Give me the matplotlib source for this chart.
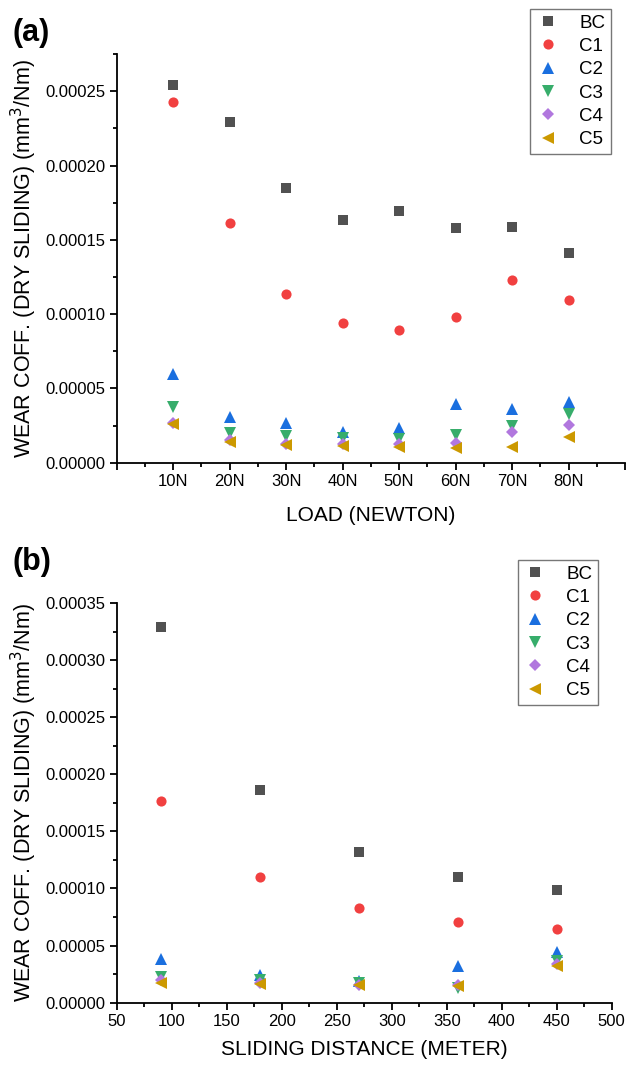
import numpy as np
import matplotlib.pyplot as plt
from matplotlib.ticker import MultipleLocator, FormatStrFormatter

plt.rcParams['font.family'] = ['Liberation Sans', 'DejaVu Sans']

# series names and styles
series = ['BC', 'C1', 'C2', 'C3', 'C4', 'C5']
colors = ['#515151', '#F14040', '#1A6FDF', '#37AD6B', '#B177DE', '#CC9900']
markers = ['s', 'o', '^', 'v', 'D', '<']
msizes = [6.8, 7.3, 8.3, 8.3, 6.3, 8.3]

# panel (a): wear coefficient vs load
loads = ['10N', '20N', '30N', '40N', '50N', '60N', '70N', '80N']
load_bc = [2.543e-4, 2.295e-4, 1.848e-4, 1.632e-4, 1.693e-4, 1.580e-4, 1.585e-4, 1.414e-4]
load_c1 = [2.426e-4, 1.614e-4, 1.138e-4, 9.42e-5, 8.90e-5, 9.82e-5, 1.230e-4, 1.095e-4]
load_c2 = [6.00e-5, 3.08e-5, 2.65e-5, 2.09e-5, 2.32e-5, 3.98e-5, 3.64e-5, 4.09e-5]
load_c3 = [3.75e-5, 2.02e-5, 1.80e-5, 1.69e-5, 1.57e-5, 1.84e-5, 2.47e-5, 3.26e-5]
load_c4 = [2.65e-5, 1.50e-5, 1.28e-5, 1.28e-5, 1.24e-5, 1.35e-5, 2.09e-5, 2.52e-5]
load_c5 = [2.59e-5, 1.42e-5, 1.19e-5, 1.15e-5, 1.08e-5, 1.01e-5, 1.06e-5, 1.73e-5]

# panel (b): wear coefficient vs sliding distance
distance = [90, 180, 270, 360, 450]
dist_bc = [3.29e-4, 1.864e-4, 1.321e-4, 1.105e-4, 9.86e-5]
dist_c1 = [1.770e-4, 1.103e-4, 8.25e-5, 7.09e-5, 6.48e-5]
dist_c2 = [3.85e-5, 2.42e-5, 1.90e-5, 3.18e-5, 4.46e-5]
dist_c3 = [2.28e-5, 1.98e-5, 1.75e-5, 1.31e-5, 3.65e-5]
dist_c4 = [2.00e-5, 1.70e-5, 1.52e-5, 1.52e-5, 3.40e-5]
dist_c5 = [1.75e-5, 1.66e-5, 1.52e-5, 1.46e-5, 3.20e-5]

load_data = [load_bc, load_c1, load_c2, load_c3, load_c4, load_c5]
dist_data = [dist_bc, dist_c1, dist_c2, dist_c3, dist_c4, dist_c5]

ylab = 'WEAR COFF. (DRY SLIDING) (mm$^3$/Nm)'

fig = plt.figure(figsize=(6.35, 10.66), dpi=100)
ax1 = fig.add_axes([0.1838, 0.5659, 0.8005, 0.3834])
ax2 = fig.add_axes([0.1838, 0.0594, 0.7795, 0.3749])


def style_axes(ax):
    for s in ['top', 'right']:
        ax.spines[s].set_visible(False)
    for s in ['left', 'bottom']:
        ax.spines[s].set_linewidth(1.3)
    ax.tick_params(which='major', direction='out', length=5, width=1.3, labelsize=12, pad=3)
    ax.tick_params(which='minor', direction='out', length=3, width=1.3)
    ax.yaxis.set_major_formatter(FormatStrFormatter('%.5f'))


# panel (a)
xpos = np.arange(1, len(loads) + 1)
for name, vals, c, m, ms in zip(series, load_data, colors, markers, msizes):
    ax1.plot(xpos, vals, linestyle='none', marker=m, color=c, markersize=ms,
             markeredgewidth=0, label=name)
ax1.set_xlim(0, 9)
ax1.set_ylim(0, 0.000275)
ax1.set_xticks(np.arange(0, 10))
ax1.set_xticklabels([''] + loads + [''])
ax1.xaxis.set_minor_locator(MultipleLocator(0.5))
ax1.yaxis.set_major_locator(MultipleLocator(0.00005))
ax1.yaxis.set_minor_locator(MultipleLocator(0.000025))
style_axes(ax1)
ax1.set_xlabel('LOAD (NEWTON)', fontsize=15, labelpad=12)
ax1.set_ylabel(ylab, fontsize=15.5, labelpad=5)

# panel (b)
for name, vals, c, m, ms in zip(series, dist_data, colors, markers, msizes):
    ax2.plot(distance, vals, linestyle='none', marker=m, color=c, markersize=ms,
             markeredgewidth=0, label=name)
ax2.set_xlim(50, 500)
ax2.set_ylim(0, 0.00035)
ax2.xaxis.set_major_locator(MultipleLocator(50))
ax2.xaxis.set_minor_locator(MultipleLocator(25))
ax2.yaxis.set_major_locator(MultipleLocator(0.00005))
ax2.yaxis.set_minor_locator(MultipleLocator(0.000025))
style_axes(ax2)
ax2.set_xlabel('SLIDING DISTANCE (METER)', fontsize=15, labelpad=8)
ax2.set_ylabel(ylab, fontsize=15.5, labelpad=5)

# legends, anchored in figure coordinates
for ax, anchor in [(ax1, (0.962, 0.9916)), (ax2, (0.9417, 0.4747))]:
    leg = ax.legend(loc='upper right', bbox_to_anchor=anchor,
                    bbox_transform=fig.transFigure, fontsize=13.5,
                    numpoints=1, handlelength=1.3, handletextpad=1.0,
                    labelspacing=0.33, borderpad=0.3, borderaxespad=0,
                    fancybox=False, framealpha=1)
    leg.get_frame().set_edgecolor('#777777')
    leg.get_frame().set_linewidth(1.0)

fig.text(0.02, 0.969, '(a)', fontsize=22, fontweight='bold', va='center', ha='left')
fig.text(0.02, 0.473, '(b)', fontsize=22, fontweight='bold', va='center', ha='left')

fig.savefig('out.png', dpi=100)
